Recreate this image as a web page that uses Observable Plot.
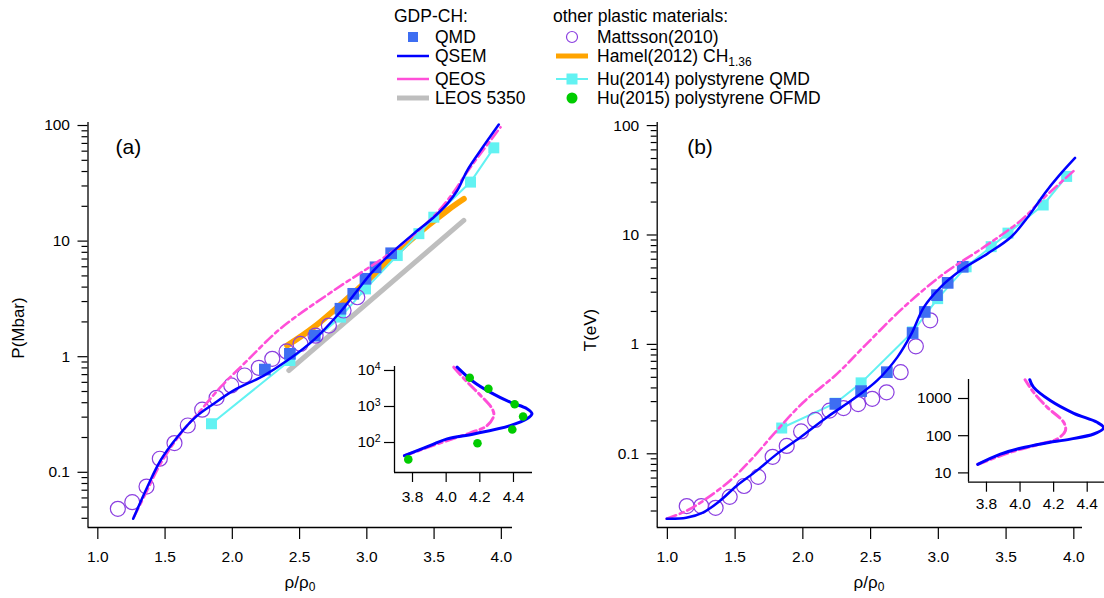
<!DOCTYPE html>
<html><head><meta charset="utf-8">
<script src="https://cdn.jsdelivr.net/npm/d3@7"></script>
<script src="https://cdn.jsdelivr.net/npm/@observablehq/plot@0.6"></script>
<style>
body{margin:0;background:#fff}
#fig{position:relative;width:1104px;height:598px;overflow:hidden;font-family:"Liberation Sans",Arial,sans-serif;color:#000;background:#fff}
.lbl{position:absolute;font-size:17px;white-space:nowrap;line-height:1}
</style></head>
<body><div id="fig"></div>
<script>
// ---------- tick values ----------
const xTicksMain = [1.0, 1.5, 2.0, 2.5, 3.0, 3.5, 4.0];
const yMajorA = [0.1, 1, 10, 100];
const yMajorB = [0.1, 1, 10, 100];
const insetXTicks = [3.8, 4.0, 4.2, 4.4];
const insetAYTicks = [100, 1000, 10000];
const insetBYTicks = [10, 100, 1000];

// ---------- panel (a): P vs rho/rho0 ----------
const qsemA_rho = [1.263,1.367,1.466,1.590,1.726,1.862,2.011,2.234,2.408,2.606,2.804,2.929,3.028,3.176,3.349,3.498,3.598,3.672,3.746,3.845,3.981];
const qsemA_P   = [0.0396,0.0743,0.1265,0.201,0.300,0.392,0.511,0.687,0.927,1.40,2.45,3.74,5.21,7.76,11.6,16.1,21.0,27.4,40.8,60.8,102];
const qeosA_rho = [1.268,1.367,1.466,1.615,1.764,1.912,2.111,2.358,2.733,3.201,3.450,3.598,3.771,3.994];
const qeosA_P   = [0.0409,0.0697,0.1186,0.215,0.343,0.545,0.927,1.75,3.6,8.3,14.5,22.4,43.6,96.7];
const qmdA_rho  = [2.242,2.428,2.613,2.804,2.899,2.990,3.065,3.181];
const qmdA_P    = [0.774,1.06,1.52,2.60,3.50,4.72,5.94,7.85];
const leosA_rho = [2.420,3.721];
const leosA_P   = [0.76,15.1];
const hamelA_rho = [2.408,2.606,2.978,3.349,3.598,3.721];
const hamelA_P   = [1.25,1.80,4.28,10.8,18.4,23.2];
const hu14A_rho = [1.845,2.428,2.804,2.990,3.226,3.387,3.498,3.771,3.944];
const hu14A_P   = [0.263,0.927,2.20,3.86,7.50,11.6,16.1,32.4,64.1];
const mattA_rho = [1.149,1.256,1.362,1.461,1.570,1.669,1.776,1.883,1.992,2.091,2.197,2.297,2.403,2.507,2.619,2.718,2.827,2.929];
const mattA_P   = [0.0483,0.0551,0.0753,0.131,0.179,0.254,0.348,0.441,0.564,0.688,0.801,0.959,1.11,1.29,1.52,1.86,2.51,3.27];

// ---------- panel (b): T vs rho/rho0 ----------
const qsemB_rho = [0.995,1.139,1.262,1.386,1.51,1.658,1.807,1.98,2.178,2.376,2.549,2.698,2.797,2.895,3.019,3.168,3.366,3.539,3.663,3.786,3.886,4.009];
const qsemB_T   = [0.0255,0.026,0.029,0.037,0.0508,0.0698,0.0993,0.141,0.216,0.318,0.468,0.765,1.22,2.2,3.36,4.78,6.79,9.64,14.7,24.1,34.3,50.6];
const qeosB_rho = [0.995,1.139,1.262,1.46,1.633,1.807,2.004,2.252,2.46,2.747,3.044,3.341,3.613,3.762,4.009];
const qeosB_T   = [0.0255,0.030,0.037,0.0565,0.0925,0.163,0.296,0.538,0.98,2.2,4.46,7.82,13.7,20.9,39.5];
const qmdB_rho  = [2.24,2.43,2.62,2.81,2.90,2.99,3.069,3.18];
const qmdB_T    = [0.286,0.374,0.557,1.27,1.98,2.82,3.65,5.12];
const hu14B_rho = [1.844,2.24,2.43,2.81,2.995,3.205,3.39,3.514,3.774,3.947];
const hu14B_T   = [0.172,0.29,0.445,1.3,2.62,5.12,7.82,10.4,18.8,34.3];
const mattB_rho = [1.143,1.25,1.356,1.46,1.566,1.67,1.777,1.881,1.987,2.091,2.197,2.30,2.408,2.512,2.618,2.722,2.834,2.94];
const mattB_T   = [0.0333,0.0333,0.0321,0.0404,0.0508,0.0615,0.0938,0.118,0.160,0.204,0.248,0.262,0.285,0.318,0.365,0.557,0.96,1.66];

// ---------- inset (a) ----------
const insA_qsem_x = [3.752,3.907,4.006,4.164,4.38,4.48,4.51,4.48,4.38,4.26,4.164,4.065];
const insA_qsem_y = [43,83,126,173,295,455,630,870,1320,2500,4770,12400];
const insA_qeos_x = [3.752,3.966,4.144,4.243,4.283,4.273,4.204,4.125,4.045];
const insA_qeos_y = [43,98,186,295,560,870,2040,4770,12400];
const insA_hu15_x = [3.775,4.14,4.251,4.407,4.457,4.393,4.186];
const insA_hu15_y = [34,6270,3100,1160,530,230,95];

// ---------- inset (b) ----------
const insB_qsem_x = [3.748,3.883,4.002,4.141,4.30,4.439,4.498,4.459,4.32,4.18,4.08,4.058];
const insB_qsem_y = [17,32,46,62,81,111,163,229,400,880,2020,3200];
const insB_qeos_x = [3.748,3.943,4.121,4.22,4.27,4.26,4.161,4.08,4.03];
const insB_qeos_y = [17,36,60,81,136,229,585,1480,3200];

// ---------- helpers ----------
const zip = (xs, ys) => xs.map((x, i) => ({x, y: ys[i]}));
function logMinor(dom) {
  const out = [];
  for (let e = -3; e <= 5; e++) for (let k = 2; k <= 9; k++) {
    const v = k * Math.pow(10, e);
    if (v >= dom[0] && v <= dom[1]) out.push(v);
  }
  return out;
}
const FONT = '"Liberation Sans", Arial, sans-serif';
const C = {
  qsem: "#0000ff", qmd: "#3e6ef2", qeos: "#ff4fd8", leos: "#bebebe",
  hamel: "#ffa400", hu14: "#62f2f2", matt: "#8b3fe0", hu15: "#00cc00"
};
const DASH = "10,4,4,4";
const fig = document.getElementById("fig");
function place(el, left, top) {
  el.style.position = "absolute"; el.style.left = left + "px"; el.style.top = top + "px";
  fig.appendChild(el);
}
const baseStyle = {fontFamily: FONT, fontSize: "15.5px", color: "black", background: "transparent", overflow: "visible"};

// ---------- panel (a) ----------
const xDomA = [0.927, 4.083];
const yDomA = [0.0333, 106.2];
const plotA = Plot.plot({
  width: 540, height: 488,
  marginLeft: 87.5, marginRight: 28, marginTop: 12, marginBottom: 71,
  style: baseStyle,
  x: {type: "linear", domain: xDomA, axis: null},
  y: {type: "log", domain: yDomA, axis: null},
  marks: [
    Plot.ruleX([xDomA[0]], {stroke: "black", strokeWidth: 1.3}),
    Plot.ruleY([yDomA[0]], {stroke: "black", strokeWidth: 1.3}),
    Plot.axisY({ticks: logMinor(yDomA), tickSize: 6, tickFormat: () => "", label: null, strokeWidth: 1.2}),
    Plot.axisY({ticks: yMajorA, tickSize: 10, tickPadding: 8, tickFormat: d3.format("~g"), label: null, strokeWidth: 1.2}),
    Plot.axisX({ticks: xTicksMain, tickSize: 12, tickPadding: 11, tickFormat: d3.format(".1f"), label: null, strokeWidth: 1.2}),
    Plot.line(zip(leosA_rho, leosA_P), {x: "x", y: "y", stroke: C.leos, strokeWidth: 5}),
    Plot.line(zip(hamelA_rho, hamelA_P), {x: "x", y: "y", stroke: C.hamel, strokeWidth: 6, curve: "catmull-rom"}),
    Plot.line(zip(hu14A_rho, hu14A_P), {x: "x", y: "y", stroke: C.hu14, strokeWidth: 2}),
    Plot.dot(zip(hu14A_rho, hu14A_P), {x: "x", y: "y", symbol: "square", fill: C.hu14, r: 6.2}),
    Plot.dot(zip(mattA_rho, mattA_P), {x: "x", y: "y", stroke: C.matt, fill: "none", r: 7.5, strokeWidth: 1.2}),
    Plot.dot(zip(qmdA_rho, qmdA_P), {x: "x", y: "y", symbol: "square", fill: C.qmd, r: 6.6}),
    Plot.line(zip(qeosA_rho, qeosA_P), {x: "x", y: "y", stroke: C.qeos, strokeWidth: 2.6, strokeDasharray: DASH, curve: "catmull-rom"}),
    Plot.line(zip(qsemA_rho, qsemA_P), {x: "x", y: "y", stroke: C.qsem, strokeWidth: 2.5, curve: "catmull-rom"}),
    Plot.text(["(a)"], {text: d => d, frameAnchor: "top-left", dx: 27.5, dy: 17, lineAnchor: "top", textAnchor: "start", fontSize: 21})
  ]
});
place(plotA, 0, 110);

// ---------- panel (b) ----------
const xDomB = [0.925, 4.064];
const yDomB = [0.0212, 106.7];
const plotB = Plot.plot({
  width: 544, height: 488,
  marginLeft: 96.7, marginRight: 22, marginTop: 12, marginBottom: 71,
  style: baseStyle,
  x: {type: "linear", domain: xDomB, axis: null},
  y: {type: "log", domain: yDomB, axis: null},
  marks: [
    Plot.ruleX([xDomB[0]], {stroke: "black", strokeWidth: 1.3}),
    Plot.ruleY([yDomB[0]], {stroke: "black", strokeWidth: 1.3}),
    Plot.axisY({ticks: logMinor(yDomB), tickSize: 6, tickFormat: () => "", label: null, strokeWidth: 1.2}),
    Plot.axisY({ticks: yMajorB, tickSize: 10, tickPadding: 8, tickFormat: d3.format("~g"), label: null, strokeWidth: 1.2}),
    Plot.axisX({ticks: xTicksMain, tickSize: 12, tickPadding: 11, tickFormat: d3.format(".1f"), label: null, strokeWidth: 1.2}),
    Plot.line(zip(hu14B_rho, hu14B_T), {x: "x", y: "y", stroke: C.hu14, strokeWidth: 2}),
    Plot.dot(zip(hu14B_rho, hu14B_T), {x: "x", y: "y", symbol: "square", fill: C.hu14, r: 6.2}),
    Plot.dot(zip(mattB_rho, mattB_T), {x: "x", y: "y", stroke: C.matt, fill: "none", r: 7.5, strokeWidth: 1.2}),
    Plot.dot(zip(qmdB_rho, qmdB_T), {x: "x", y: "y", symbol: "square", fill: C.qmd, r: 6.6}),
    Plot.line(zip(qeosB_rho, qeosB_T), {x: "x", y: "y", stroke: C.qeos, strokeWidth: 2.6, strokeDasharray: DASH, curve: "catmull-rom"}),
    Plot.line(zip(qsemB_rho, qsemB_T), {x: "x", y: "y", stroke: C.qsem, strokeWidth: 2.5, curve: "catmull-rom"}),
    Plot.text(["(b)"], {text: d => d, frameAnchor: "top-left", dx: 30, dy: 17, lineAnchor: "top", textAnchor: "start", fontSize: 21})
  ]
});
place(plotB, 560, 110);

// ---------- inset (a) ----------
const xDomIA = [3.693, 4.513];
const yDomIA = [14.7, 12900];
const insetA = Plot.plot({
  width: 210, height: 160,
  marginLeft: 64, marginRight: 8, marginTop: 11, marginBottom: 43,
  style: baseStyle,
  x: {type: "linear", domain: xDomIA, axis: null},
  y: {type: "log", domain: yDomIA, axis: null},
  marks: [
    Plot.ruleX([xDomIA[0]], {stroke: "black", strokeWidth: 1.3}),
    Plot.ruleY([yDomIA[0]], {stroke: "black", strokeWidth: 1.3}),
    Plot.axisY({ticks: insetAYTicks, tickSize: 10, tickPadding: 4, tickFormat: d => "10^" + Math.round(Math.log10(d)), label: null, strokeWidth: 1.2}),
    Plot.axisX({ticks: insetXTicks, tickSize: 10, tickPadding: 8, tickFormat: d3.format(".1f"), label: null, strokeWidth: 1.2}),
    Plot.line(zip(insA_qeos_x, insA_qeos_y), {x: "x", y: "y", stroke: C.qeos, strokeWidth: 3, strokeDasharray: DASH, curve: "catmull-rom"}),
    Plot.line(zip(insA_qsem_x, insA_qsem_y), {x: "x", y: "y", stroke: C.qsem, strokeWidth: 3, curve: "catmull-rom"}),
    Plot.dot(zip(insA_hu15_x, insA_hu15_y), {x: "x", y: "y", fill: C.hu15, r: 4.3})
  ]
});
insetA.querySelectorAll("text").forEach(t => {
  const m = t.textContent.match(/^10\^(\d+)$/);
  if (m) {
    t.textContent = "10";
    const ts = document.createElementNS("http://www.w3.org/2000/svg", "tspan");
    ts.setAttribute("dy", "-0.5em");
    ts.setAttribute("font-size", "0.68em");
    ts.textContent = m[1];
    t.appendChild(ts);
  }
});
place(insetA, 330, 355);

// ---------- inset (b) ----------
const xDomIB = [3.693, 4.503];
const yDomIB = [5.62, 3243];
const insetB = Plot.plot({
  width: 204, height: 145,
  marginLeft: 68, marginRight: 0, marginTop: 9, marginBottom: 33.3,
  style: baseStyle,
  x: {type: "linear", domain: xDomIB, axis: null},
  y: {type: "log", domain: yDomIB, axis: null},
  marks: [
    Plot.ruleX([xDomIB[0]], {stroke: "black", strokeWidth: 1.3}),
    Plot.ruleY([yDomIB[0]], {stroke: "black", strokeWidth: 1.3}),
    Plot.axisY({ticks: insetBYTicks, tickSize: 10, tickPadding: 7, tickFormat: d3.format("d"), label: null, strokeWidth: 1.2}),
    Plot.axisX({ticks: insetXTicks, tickSize: 10, tickPadding: 6, tickFormat: d3.format(".1f"), label: null, strokeWidth: 1.2}),
    Plot.line(zip(insB_qeos_x, insB_qeos_y), {x: "x", y: "y", stroke: C.qeos, strokeWidth: 3, strokeDasharray: DASH, curve: "catmull-rom"}),
    Plot.line(zip(insB_qsem_x, insB_qsem_y), {x: "x", y: "y", stroke: C.qsem, strokeWidth: 3, curve: "catmull-rom"})
  ]
});
place(insetB, 900, 370);

// ---------- axis titles ----------
function label(html, cx, cy, rotate) {
  const d = document.createElement("div");
  d.className = "lbl";
  d.innerHTML = html;
  d.style.left = cx + "px"; d.style.top = cy + "px";
  d.style.transform = "translate(-50%,-50%)" + (rotate ? " rotate(-90deg)" : "");
  fig.appendChild(d);
}
const rhoLabel = 'ρ/ρ<span style="font-size:12px;position:relative;top:3px">0</span>';
label(rhoLabel, 300, 582, false);
label(rhoLabel, 869, 582, false);
label("P(Mbar)", 18, 328, true);
label("T(eV)", 590, 330, true);

// ---------- legend ----------
const NS = "http://www.w3.org/2000/svg";
const leg = document.createElementNS(NS, "svg");
leg.setAttribute("width", 1104); leg.setAttribute("height", 112);
leg.style.position = "absolute"; leg.style.left = "0px"; leg.style.top = "0px";
leg.setAttribute("font-family", FONT); leg.setAttribute("font-size", "17.5");
function el(tag, attrs, text) {
  const e = document.createElementNS(NS, tag);
  for (const k in attrs) e.setAttribute(k, attrs[k]);
  if (text != null) e.textContent = text;
  leg.appendChild(e); return e;
}
const rowY = [37, 56, 79, 98];
const col1Items = ["QMD", "QSEM", "QEOS", "LEOS 5350"];
const col2Items = ["Mattsson(2010)", "Hamel(2012) CH", "Hu(2014) polystyrene QMD", "Hu(2015) polystyrene OFMD"];
el("text", {x: 394, y: 22}, "GDP-CH:");
el("text", {x: 553, y: 22}, "other plastic materials:");
el("rect", {x: 408, y: rowY[0] - 5, width: 10, height: 10, fill: C.qmd});
el("line", {x1: 397, x2: 429, y1: rowY[1], y2: rowY[1], stroke: C.qsem, "stroke-width": 2.5});
el("line", {x1: 397, x2: 429, y1: rowY[2], y2: rowY[2], stroke: C.qeos, "stroke-width": 2.5});
el("line", {x1: 397, x2: 429, y1: rowY[3], y2: rowY[3], stroke: C.leos, "stroke-width": 5});
col1Items.forEach((t, i) => el("text", {x: 435, y: rowY[i] + 6.3}, t));
el("circle", {cx: 572, cy: rowY[0], r: 5.5, fill: "none", stroke: C.matt, "stroke-width": 1.2});
el("line", {x1: 556, x2: 588, y1: rowY[1], y2: rowY[1], stroke: C.hamel, "stroke-width": 5});
el("line", {x1: 556, x2: 588, y1: rowY[2], y2: rowY[2], stroke: C.hu14, "stroke-width": 2});
el("rect", {x: 566.5, y: rowY[2] - 5.5, width: 11, height: 11, fill: C.hu14});
el("circle", {cx: 572, cy: rowY[3], r: 5.5, fill: C.hu15});
col2Items.forEach((t, i) => {
  const tx = el("text", {x: 597, y: rowY[i] + 6.3}, t);
  if (i === 1) {
    const s = document.createElementNS(NS, "tspan");
    s.setAttribute("font-size", "12"); s.setAttribute("dy", "4"); s.textContent = "1.36";
    tx.appendChild(s);
  }
});
fig.appendChild(leg);
</script>
</body></html>
